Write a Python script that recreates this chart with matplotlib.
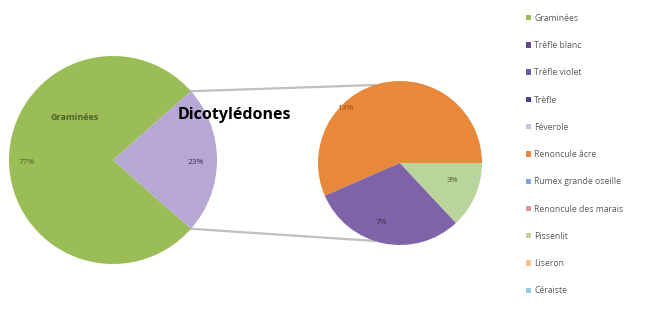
import numpy as np
import matplotlib.pyplot as plt
from matplotlib.patches import Patch

plt.rcParams['font.family'] = ['Open Sans', 'DejaVu Sans']

# données
main_labels = ["Graminées", "Dicotylédones"]
main_values = [77, 23]
main_colors = ["#9BBD57", "#B6A7D4"]

sub_labels = ["Renoncule âcre", "Trèfle", "Pissenlit"]
sub_values = [13, 7, 3]
sub_colors = ["#E8883A", "#7F63A8", "#B9D59B"]

legend_labels = ["Graminées", "Trèfle blanc", "Trèfle violet", "Trèfle", "Féverole",
                 "Renoncule âcre", "Rumex grande oseille", "Renoncule des marais",
                 "Pissenlit", "Liseron", "Céraiste"]
legend_colors = ["#9BBB59", "#5F4B8B", "#6B5A9C", "#4F3F8F", "#CDC1E0",
                 "#E8883A", "#7EA6D8", "#D99694", "#C3D69B", "#FAC090", "#93CDDD"]

W, H = 667, 320
fig = plt.figure(figsize=(W / 100, H / 100), dpi=100)
ax = fig.add_axes([0, 0, 1, 1])

# camembert principal
c1 = (113, H - 160)
r1 = 104
half = main_values[1] / sum(main_values) * 180
ax.pie(main_values, colors=main_colors, startangle=half, center=c1, radius=r1,
       wedgeprops=dict(linewidth=0), frame=True)

# camembert secondaire
c2 = (400, H - 163)
r2 = 82
ax.pie(sub_values, colors=sub_colors, startangle=0, center=c2, radius=r2,
       wedgeprops=dict(linewidth=0), frame=True)
ax.set_xlim(0, W)
ax.set_ylim(0, H)
ax.set_aspect('equal')
ax.axis('off')

# lignes de liaison
for sgn in (1, -1):
    a = np.deg2rad(sgn * half)
    x0 = c1[0] + r1 * np.cos(a)
    y0 = c1[1] + r1 * np.sin(a)
    ax.plot([x0, c2[0] - 25], [y0, c2[1] + sgn * (r2 - 4)], color="#BFBFBF",
            lw=1.6, zorder=0, solid_capstyle='round')

# étiquettes
ax.text(75, H - 117, main_labels[0], color="#4F6228", fontsize=6.5,
        fontweight='bold', ha='center', va='center')
ax.text(27, H - 163, f"{main_values[0]}%", color="#4F6228", fontsize=6,
        ha='center', va='center')
ax.text(196, H - 163, f"{main_values[1]}%", color="#3F3151", fontsize=6,
        ha='center', va='center')
ax.text(234, H - 115, main_labels[1], color="black", fontsize=11.5,
        fontweight='bold', ha='center', va='center')

sub_pos = [(345, 108), (381, 222), (452, 180)]
sub_text_colors = ["#984807", "#3F3151", "#4F6228"]
for v, (px, py), tc in zip(sub_values, sub_pos, sub_text_colors):
    ax.text(px, H - py, f"{v}%", color=tc, fontsize=6, ha='center', va='center')

# légende
handles = [Patch(facecolor=c, edgecolor='none') for c in legend_colors]
fig.legend(handles, legend_labels, loc='upper left', bbox_to_anchor=(518 / W, 1 - 6 / H),
           frameon=False, fontsize=6.2, labelcolor="#595959", handlelength=0.6,
           handleheight=0.6, handletextpad=0.4, labelspacing=2.12)

fig.savefig("out.png", dpi=100)
